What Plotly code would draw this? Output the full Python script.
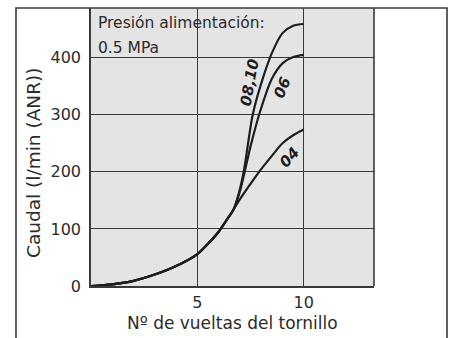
import plotly.graph_objects as go

# Shared low part of all curves (turns, flow)
base_x = [0, 1, 2, 3, 4, 5, 5.5, 6, 6.4, 6.7]
base_y = [0, 3, 9, 20, 35, 56, 74, 95, 117, 134]

# Branches after the split
x_0810 = [6.7, 7.0, 7.2, 7.6, 8.0, 8.5, 9.0, 9.5, 10.0]
y_0810 = [134, 170, 205, 300, 355, 408, 443, 456, 459]
x_06 = [6.7, 7.0, 7.5, 7.9, 8.5, 9.0, 9.5, 10.0]
y_06 = [134, 166, 245, 300, 363, 390, 401, 405]
x_04 = [6.7, 7.0, 7.5, 7.9, 8.5, 9.0, 9.5, 10.0]
y_04 = [134, 152, 179, 200, 228, 250, 264, 274]

series_names = ["08,10", "06", "04"]
label_pos = {"08,10": (7.47, 357, -80), "06": (8.98, 347, -68), "04": (9.35, 226, -48)}

x_ticks = [5, 10]
y_ticks = [0, 100, 200, 300, 400]

W, H = 453, 338
L, R, T, B = 91, 79, 8, 52
pw, ph = W - L - R, H - T - B


def px_x(p):
    return (p - L) / pw


def px_y(p):
    return (H - B - p) / ph


fig = go.Figure()
for name, bx, by in [("08,10", x_0810, y_0810), ("06", x_06, y_06), ("04", x_04, y_04)]:
    fig.add_trace(go.Scatter(
        x=base_x + bx[1:], y=base_y + by[1:], mode="lines",
        line=dict(color="#1e1e1e", width=2.2, shape="spline", smoothing=0.8),
        name=name, showlegend=False, hoverinfo="skip"))

font_fam = "DejaVu Sans, sans-serif"
txt = "#2b2b2b"

annotations = [
    dict(x=0.25, y=461, xref="x", yref="y", text="Presión alimentación:", showarrow=False,
         xanchor="left", yanchor="middle", font=dict(size=15.5, color=txt, family=font_fam)),
    dict(x=0.25, y=417, xref="x", yref="y", text="0.5 MPa", showarrow=False,
         xanchor="left", yanchor="middle", font=dict(size=15.5, color=txt, family=font_fam)),
    dict(x=px_x(33), y=px_y(163), xref="paper", yref="paper", text="Caudal (l/min (ANR))",
         showarrow=False, textangle=-90, xanchor="center", yanchor="middle",
         font=dict(size=18.5, color=txt, family=font_fam)),
    dict(x=px_x(232), y=px_y(323), xref="paper", yref="paper", text="Nº de vueltas del tornillo",
         showarrow=False, xanchor="center", yanchor="middle",
         font=dict(size=17, color=txt, family=font_fam)),
]
for n in series_names:
    lx, ly, ang = label_pos[n]
    annotations.append(dict(x=lx, y=ly, xref="x", yref="y", text=f"<b><i>{n}</i></b>",
                            showarrow=False, textangle=ang,
                            font=dict(size=15, color="#1e1e1e", family=font_fam)))

fig.update_layout(
    width=W, height=H,
    margin=dict(l=L, r=R, t=T, b=B, pad=0),
    paper_bgcolor="white", plot_bgcolor="#e4e4e4",
    annotations=annotations,
    xaxis=dict(range=[0, 13.3], tickvals=x_ticks, ticktext=[str(v) for v in x_ticks],
               showgrid=True, gridcolor="#3a3a3a", gridwidth=1.2, zeroline=False,
               showline=True, linecolor="#3a3a3a", linewidth=1.6, mirror=False,
               ticks="", ticklabelstandoff=1,
               tickfont=dict(size=16, color=txt, family=font_fam)),
    yaxis=dict(range=[0, 487], tickvals=y_ticks, ticktext=[str(v) for v in y_ticks],
               showgrid=True, gridcolor="#3a3a3a", gridwidth=1.2, zeroline=False,
               showline=True, linecolor="#3a3a3a", linewidth=1.6, mirror=False,
               ticks="", ticklabelstandoff=5,
               tickfont=dict(size=16, color=txt, family=font_fam)),
    shapes=[
        dict(type="rect", xref="paper", yref="paper",
             x0=px_x(16), x1=px_x(447), y0=-0.5, y1=1.0,
             line=dict(color="#3a3a3a", width=1.6), layer="below"),
        dict(type="line", xref="paper", yref="paper", x0=1, x1=1, y0=0, y1=1,
             line=dict(color="#3a3a3a", width=1.6)),
    ],
)

fig.write_html("out.html", config={"displayModeBar": False},
               post_script="document.body.style.margin='0';document.body.style.overflow='hidden';")
